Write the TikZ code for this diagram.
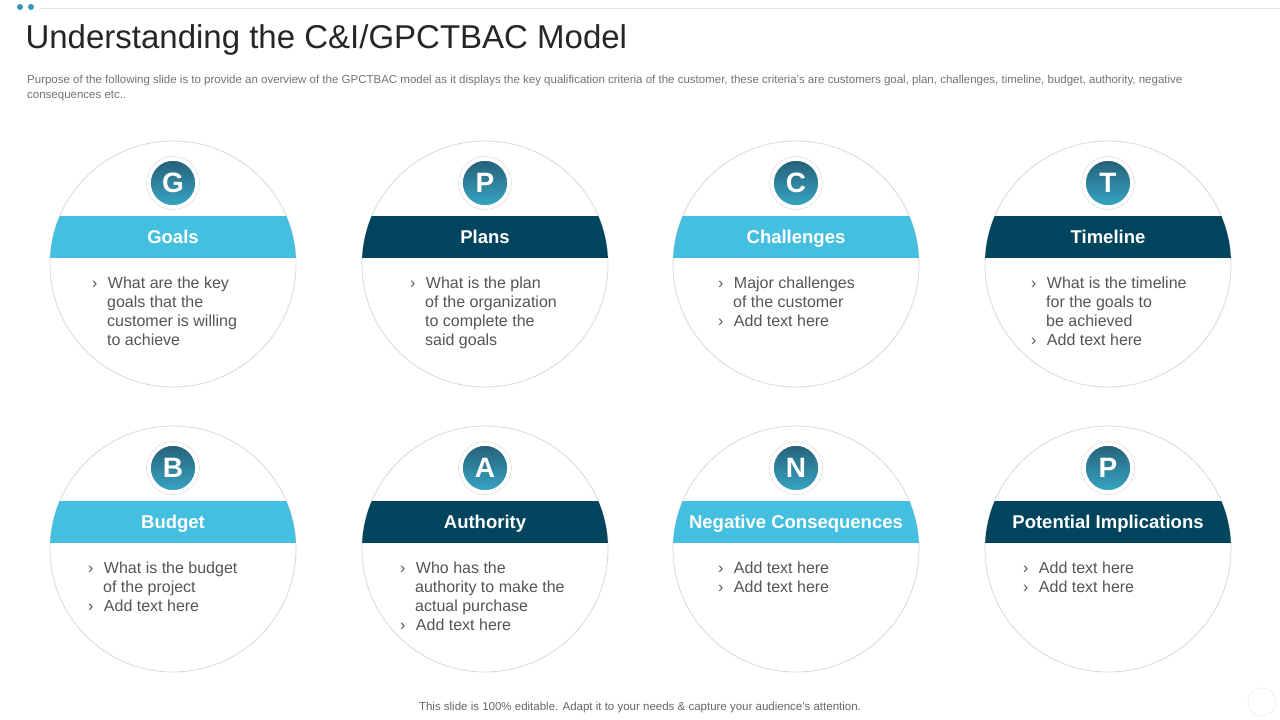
\documentclass[tikz,border=0pt]{standalone}
\usepackage{fontspec}
\setmainfont{Liberation Sans}
\definecolor{lblue}{HTML}{45BFE0}
\definecolor{dblue}{HTML}{00445E}
\definecolor{txt}{HTML}{555555}
\tikzset{
  ring/.style={circle,draw=black!15,line width=0.8pt,minimum size=246pt,inner sep=0pt},
  badge/.style={circle,draw=white,line width=3.5pt,minimum size=48pt,inner sep=0pt,
    top color=dblue!85,bottom color=lblue!80!dblue,text=white,font=\fontsize{28}{28}\selectfont\bfseries},
  badgering/.style={circle,draw=black!12,line width=0.6pt,minimum size=53pt},
  head/.style={text=white,font=\fontsize{18.5}{20}\selectfont\bfseries,text height=13pt,text depth=4pt},
  body/.style={text=txt,font=\fontsize{16}{19}\selectfont,align=left,anchor=north west}
}
\begin{document}
\begin{tikzpicture}[x=1pt,y=-1pt]
\useasboundingbox (0,0) rectangle (1280,720);
\fill[white] (0,0) rectangle (1280,720);
\draw[black!10] (40,8) -- (1280,8);
\fill[lblue!70!dblue] (20,7) circle (3);
\fill[lblue!70!dblue] (31,7) circle (3);
\node[anchor=west,text=black!85,font=\fontsize{33}{36}\selectfont] (title) at (22,40) {Understanding the C\&I/GPCTBAC Model};
\node[anchor=north west,text=black!55,font=\fontsize{11.5}{15}\selectfont,align=left,inner sep=0pt] (sub) at (27,75)
  {Purpose of the following slide is to provide an overview of the GPCTBAC model as it displays the key qualification criteria of the customer, these criteria's are customers goal, plan, challenges, timeline, budget, authority, negative\\ consequences etc..};
\node[text=black!60,font=\fontsize{11.5}{14}\selectfont] (foot) at (640,708) {This slide is 100\% editable. Adapt it to your needs \& capture your audience's attention.};
\draw[black!12] (1262,702) circle (14);

% circles
\foreach \n/\x/\y/\c/\l/\h/\tx/\b in {
  g/173/264/lblue/G/Goals/92/{› \hspace{6pt}What are the key\\ \hspace{15pt}goals that the\\ \hspace{15pt}customer is willing\\ \hspace{15pt}to achieve},
  p/485/264/dblue/P/Plans/410/{› \hspace{6pt}What is the plan\\ \hspace{15pt}of the organization\\ \hspace{15pt}to complete the\\ \hspace{15pt}said goals},
  c/796/264/lblue/C/Challenges/718/{› \hspace{6pt}Major challenges\\ \hspace{15pt}of the customer\\ › \hspace{6pt}Add text here},
  t/1108/264/dblue/T/Timeline/1031/{› \hspace{6pt}What is the timeline\\ \hspace{15pt}for the goals to\\ \hspace{15pt}be achieved\\ › \hspace{6pt}Add text here},
  b/173/549/lblue/B/Budget/88/{› \hspace{6pt}What is the budget\\ \hspace{15pt}of the project\\ › \hspace{6pt}Add text here},
  a/485/549/dblue/A/Authority/400/{› \hspace{6pt}Who has the\\ \hspace{15pt}authority to make the\\ \hspace{15pt}actual purchase\\ › \hspace{6pt}Add text here},
  n/796/549/lblue/N/Negative Consequences/718/{› \hspace{6pt}Add text here\\ › \hspace{6pt}Add text here},
  q/1108/549/dblue/P/Potential Implications/1023/{› \hspace{6pt}Add text here\\ › \hspace{6pt}Add text here}}{
  \node[ring] (\n) at (\x,\y) {};
  \begin{scope}
    \clip (\x,\y) circle (123);
    \fill[\c] (\x-130,\y-48) rectangle (\x+130,\y-6);
  \end{scope}
  \node[head] (\n h) at (\x,\y-25) {\h};
  \node[badgering] (\n r) at (\x,\y-81) {};
  \node[badge] (\n l) at (\x,\y-81) {\l};
  \node[body,inner sep=0pt] (\n t) at (\tx,\y+13) {\b};
}
\end{tikzpicture}
\end{document}
